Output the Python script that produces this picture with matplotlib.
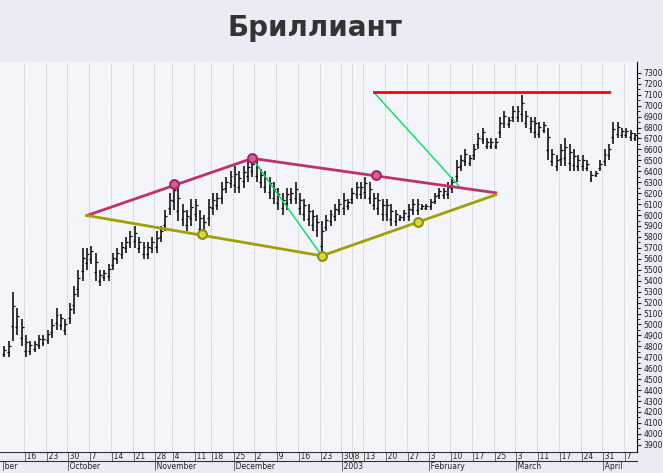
import matplotlib
matplotlib.use("Agg")
import matplotlib.pyplot as plt
import numpy as np

highs = [4800,4850,5300,5150,5050, 4900,4850,4850,4900,4900, 4950,5050,5150,5100,5050,
         5200,5350,5500,5700,5700, 5720,5650,5500,5500,5550, 5650,5700,5750,5800,5850,
         5900,5800,5750,5750,5800, 5850,5900,6050,6200, 6300,6250,6100,6050,6150,
         6150,6050,6000,6150, 6200,6200,6300,6350,6400, 6450,6400,6450,6500,6520,
         6500,6420,6400,6350,6300, 6250,6200,6250,6250,6300, 6200,6150,6100,6050,6000,
         5950,6000,6050,6100,6150, 6200,6150,6250,6300,6300, 6350,6300,6200,6200,6150,
         6150,6100,6050,6000,6050, 6100,6150,6150,6100,6100, 6150,6200,6250,6250,6300,
         6350,6500,6550,6600,6550, 6650,6750,6800,6700,6700, 6700,6900,6950,6900,7000,
         7000,7100,6950,6900,6900, 6850,6850,6800,6600,6550, 6650,6700,6650,6600,6550,
         6550,6500,6400,6400,6500, 6600,6650,6850,6850,6800, 6800,6780,6750]
lows = [4700,4700,4850,4900,4800, 4700,4720,4750,4780,4800, 4820,4880,4950,4950,4900,
        5000,5100,5250,5400,5500, 5550,5400,5350,5400,5400, 5500,5550,5600,5650,5700,
        5700,5650,5600,5600,5650, 5650,5750,5850,6000, 6050,5950,5900,5850,5900,
        5950,5800,5800,5900, 6000,6050,6100,6200,6250, 6200,6200,6250,6300,6350,
        6300,6250,6200,6150,6100, 6050,6000,6050,6100,6100, 6000,5950,5900,5850,5800,
        5620,5850,5900,5950,6000, 6000,6050,6100,6150,6150, 6150,6100,6050,6000,5950,
        5950,5900,5900,5950,5950, 5950,6000,6000,6050,6050, 6050,6100,6150,6150,6150,
        6200,6300,6400,6450,6450, 6500,6600,6650,6600,6600, 6600,6700,6800,6800,6850,
        6850,6850,6800,6750,6700, 6700,6750,6500,6450,6400, 6450,6450,6400,6400,6400,
        6400,6400,6300,6350,6400, 6450,6500,6650,6700,6700, 6700,6680,6680]

week_start = [5,10,15,20,25,30,35,39,44,48,53,58,63,68,73,78,80.5,83,88,93,98,103,108,113,118,123,128,133,138,143]
week_labels = ['16','23','30','7','14','21','28','4','11','18','25','2','9','16','23','30','8','13','20','27',
               '3','10','17','25','3','11','17','24','31','7']
month_pos = [0,15,35,53,78,98,118,138]
month_labels = ['ber','October','November','December','2003','February','March','April']

upper = ([19,57,113],[5996,6518,6203]); upper_pts=([39,57,85.5],[6284,6518,6365])
lower = ([19,73,113],[5996,5627,6185]); lower_pts=([45.5,73,95],[5825,5627,5933])
green1 = ([57,73],[6518,5627]); green2 = ([85,104.5],[7120,6266])
red = ([85,139],[7120,7120])

fig = plt.figure(figsize=(6.63,4.73), dpi=100, facecolor='#ebebf5')
ax = fig.add_axes([0, 0.045, 0.961, 0.824])
ax.set_facecolor('#f4f4fb')
n = len(highs)
x = np.arange(n)
ax.vlines(x, lows, highs, color='black', lw=1.1)
op = [l + (h-l)*0.3 for h, l in zip(highs, lows)]
cl = [l + (h-l)*0.7 for h, l in zip(highs, lows)]
ax.hlines(op, x-0.45, x, color='black', lw=0.9)
ax.hlines(cl, x, x+0.45, color='black', lw=0.9)
for ws in week_start:
    ax.axvline(ws-0.5, color='#b8b8c8', lw=0.6, ls=(0,(1.5,1.5)), zorder=0)

ax.plot(*upper, color='#c0306a', lw=2)
ax.plot(*lower, color='#a0a000', lw=2)
ax.plot(*green1, color='#00e060', lw=1)
ax.plot(*green2, color='#00e060', lw=1)
ax.plot(*red, color='#ff0000', lw=2)
ax.scatter(*upper_pts, s=40, facecolor='#d060a0', edgecolor='#b02060', lw=1.5, zorder=5)
ax.scatter(*lower_pts, s=40, facecolor='#d8d840', edgecolor='#909000', lw=1.5, zorder=5)

ax.set_xlim(-1, n-0.5)
ax.set_ylim(3837, 7399)
ax.yaxis.tick_right()
ax.set_yticks(np.arange(3900, 7301, 100))
ax.set_yticks(np.arange(3900, 7301, 50), minor=True)
ax.tick_params(axis='y', labelsize=5.5, length=3, pad=1.5, colors='#222')
ax.tick_params(axis='y', which='minor', length=2)
ax.set_xticks([])
for s in ['top','left','bottom']:
    ax.spines[s].set_visible(False)

trans = ax.get_xaxis_transform()
for ws, lab in zip(week_start, week_labels):
    ax.text(ws-0.5, -0.002, '|'+lab, transform=trans, fontsize=5.5, va='top', ha='left', color='#222', clip_on=False)
for mp, lab in zip(month_pos, month_labels):
    ax.text(mp-0.5, -0.027, '|'+lab, transform=trans, fontsize=5.5, va='top', ha='left', color='#222', clip_on=False)
ax.plot([-1, n-0.5], [0, 0], transform=trans, color='#333', lw=0.8, clip_on=False)
ax.plot([-1, n-0.5], [-0.025, -0.025], transform=trans, color='#333', lw=0.8, clip_on=False)

fig.text(0.475, 0.94, 'Бриллиант', ha='center', va='center', fontsize=20, fontweight='bold', color='#333333')
fig.savefig('out.png', dpi=100, facecolor=fig.get_facecolor())
